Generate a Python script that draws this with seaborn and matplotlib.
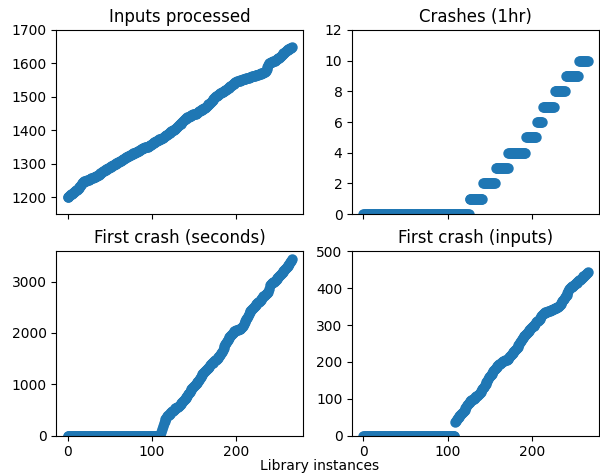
import numpy as np
import pandas as pd
import matplotlib
matplotlib.use("Agg")
import matplotlib.pyplot as plt
import seaborn as sns

# ---- data ----
inputs_processed = [
    1200,1202,1204,1207,1209,1211,1213,1215,1217,1219,
    1221,1223,1225,1227,1230,1233,1238,1242,1245,1247,
    1248,1249,1250,1251,1252,1253,1254,1256,1257,1258,
    1259,1260,1261,1262,1264,1265,1266,1268,1270,1272,
    1274,1276,1278,1280,1281,1282,1284,1285,1287,1289,
    1290,1292,1293,1295,1296,1298,1300,1301,1303,1304,
    1306,1307,1309,1310,1312,1313,1315,1316,1318,1320,
    1321,1322,1324,1325,1326,1328,1329,1330,1332,1333,
    1334,1335,1336,1338,1339,1340,1342,1344,1345,1347,
    1348,1349,1350,1350,1351,1352,1353,1355,1356,1358,
    1360,1362,1363,1365,1366,1368,1369,1371,1372,1374,
    1375,1376,1378,1379,1380,1382,1383,1385,1387,1389,
    1391,1393,1395,1397,1398,1400,1402,1403,1405,1408,
    1410,1413,1415,1418,1420,1423,1426,1428,1431,1433,
    1435,1437,1439,1440,1441,1443,1444,1445,1446,1448,
    1449,1450,1450,1452,1453,1455,1457,1458,1460,1462,
    1464,1465,1467,1468,1470,1473,1475,1478,1480,1483,
    1486,1488,1491,1493,1496,1500,1502,1504,1505,1507,
    1509,1511,1513,1514,1516,1518,1519,1520,1522,1524,
    1526,1528,1530,1532,1534,1536,1538,1540,1542,1545,
    1546,1547,1547,1548,1549,1550,1551,1552,1553,1554,
    1555,1555,1556,1557,1558,1558,1559,1560,1561,1562,
    1563,1563,1564,1565,1566,1567,1567,1568,1569,1570,
    1571,1572,1573,1574,1575,1578,1584,1590,1596,1600,
    1602,1603,1604,1605,1606,1607,1608,1610,1612,1613,
    1615,1617,1619,1621,1624,1627,1630,1632,1635,1637,
    1639,1641,1643,1644,1645,1647,1648,
]

# crashes within 1 hour: value levels and how many instances have each
crash_levels = [0, 1, 2, 3, 4, 5, 6, 7, 8, 9, 10]
crash_counts = [126, 16, 15, 15, 21, 13, 7, 14, 13, 16, 11]

# first crash time (seconds); instances with no crash recorded as 0
first_crash_zero_count_s = 111
first_crash_seconds_nonzero = [
    60,120,180,240,290,320,350,375,395,
    410,425,440,455,470,485,500,515,530,545,
    555,565,580,600,620,640,660,680,700,720,
    740,760,780,800,820,850,880,900,920,940,
    960,980,1000,1020,1040,1060,1090,1120,1150,1175,
    1195,1215,1235,1255,1275,1295,1310,1325,1345,1365,
    1385,1405,1420,1435,1450,1465,1480,1495,1510,1525,
    1545,1570,1600,1630,1660,1700,1740,1780,1810,1840,
    1870,1895,1920,1945,1965,1985,2000,2015,2030,2040,
    2050,2060,2065,2070,2075,2085,2095,2110,2140,2180,
    2210,2240,2270,2300,2330,2370,2400,2420,2440,2460,
    2480,2500,2520,2540,2560,2580,2595,2610,2630,2650,
    2670,2690,2710,2725,2740,2755,2770,2785,2800,2850,
    2940,2960,2970,2980,2990,3000,3015,3030,3050,3065,
    3080,3100,3120,3140,3160,3180,3200,3220,3240,3260,
    3280,3300,3320,3350,3380,3410,3440,
]

# first crash (inputs); instances with no crash recorded as 0
first_crash_zero_count_i = 109
first_crash_inputs_nonzero = [
    36,
    40,44,48,51,54,56,58,60,63,66,
    70,74,78,82,86,89,92,94,96,97,
    98,100,102,104,106,108,110,113,116,119,
    121,125,129,133,137,141,145,149,154,158,
    162,165,168,171,174,177,180,183,186,189,
    191,193,195,197,199,200,201,202,204,205,
    206,207,209,212,215,218,221,224,227,230,
    232,234,237,241,245,249,253,257,261,266,
    269,271,273,275,278,280,283,286,289,292,
    294,296,298,301,304,307,310,312,314,317,
    320,325,328,330,332,333,334,335,336,337,
    338,339,340,341,342,343,344,345,346,347,
    348,350,352,354,357,361,364,368,371,375,
    378,382,387,392,397,400,402,404,406,407,
    409,411,413,415,417,419,421,423,425,427,
    430,432,434,436,438,440,443,
]

titles = ["Inputs processed", "Crashes (1hr)", "First crash (seconds)", "First crash (inputs)"]
xlabel = "Library instances"

# ---- assemble ----
crashes = np.repeat(crash_levels, crash_counts)
first_s = np.concatenate([np.zeros(first_crash_zero_count_s), first_crash_seconds_nonzero])
first_i = np.concatenate([np.zeros(first_crash_zero_count_i), first_crash_inputs_nonzero])
series = [np.array(inputs_processed), crashes, first_s, first_i]

color = "#1f77b4"
fig, axes = plt.subplots(2, 2, sharex=True, figsize=(6.0, 4.76), dpi=100)
axes = axes.ravel()

for ax, vals, title in zip(axes, series, titles):
    df = pd.DataFrame({"x": np.arange(len(vals)), "y": vals})
    sns.scatterplot(data=df, x="x", y="y", ax=ax, s=36, color=color,
                    edgecolor=color, linewidth=1.5, legend=False)
    ax.set_title(title, fontsize=12)
    ax.set_xlabel("")
    ax.set_ylabel("")

axes[0].set_ylim(1150, 1700)
axes[0].set_yticks([1200, 1300, 1400, 1500, 1600, 1700])
axes[1].set_ylim(0, 12)
axes[1].set_yticks([0, 2, 4, 6, 8, 10, 12])
axes[2].set_ylim(0, 3590)
axes[2].set_yticks([0, 1000, 2000, 3000])
axes[3].set_ylim(0, 500)
axes[3].set_yticks([0, 100, 200, 300, 400, 500])
axes[2].set_xticks([0, 100, 200])

# positions (figure fractions)
w = 0.411
h = 0.387
axes[0].set_position([0.094, 0.550, w, h])
axes[1].set_position([0.587, 0.550, w, h])
axes[2].set_position([0.094, 0.085, w, h])
axes[3].set_position([0.587, 0.085, w, h])

fig.text(0.533, 0.022, xlabel, ha="center", va="center", fontsize=10)

fig.savefig("out.png", dpi=100)
